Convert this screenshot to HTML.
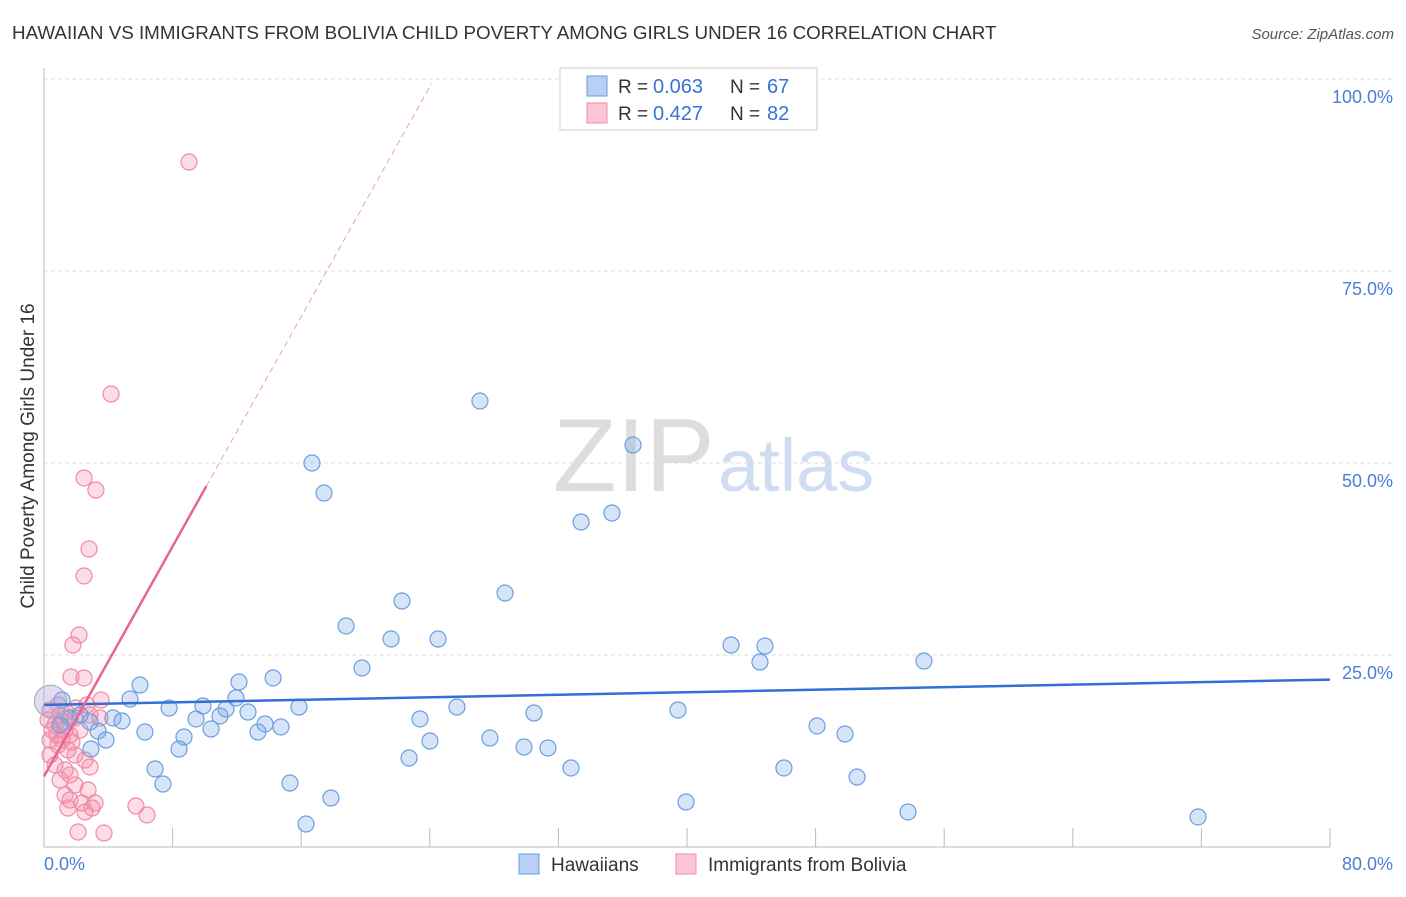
<!DOCTYPE html>
<html><head><meta charset="utf-8"><style>
body{margin:0;background:#fff;font-family:"Liberation Sans",sans-serif}
svg text{font-family:"Liberation Sans",sans-serif}
</style></head><body>
<svg id="c" width="1406" height="892"></svg>
<script>
const bluePx=[[480,401],[633,445],[312,463],[324,493],[581,522],[612,513],[402,601],[505,593],[346,626],[391,639],[438,639],[731,645],[765,646],[760,662],[924,661],[362,668],[140,685],[239,682],[273,678],[236,698],[130,699],[169,708],[203,706],[299,707],[457,707],[226,709],[220,716],[248,712],[678,710],[534,713],[113,718],[122,721],[196,719],[420,719],[265,724],[281,727],[258,732],[211,729],[145,732],[98,731],[184,737],[106,740],[430,741],[490,738],[91,749],[179,749],[524,747],[548,748],[817,726],[845,734],[409,758],[155,769],[571,768],[784,768],[857,777],[163,784],[290,783],[331,798],[686,802],[908,812],[1198,817],[306,824],[70,718],[80,715],[60,725],[90,722],[62,700]];
const pinkPx=[[189,162],[111,394],[84,478],[96,490],[89,549],[84,576],[79,635],[73,645],[71,677],[84,678],[101,700],[87,705],[50,710],[60,715],[75,718],[100,718],[55,725],[65,730],[70,735],[80,730],[50,740],[58,745],[68,750],[75,755],[85,760],[90,767],[55,765],[65,770],[70,775],[60,780],[75,785],[88,790],[65,795],[70,800],[82,803],[95,803],[92,808],[68,808],[85,812],[136,806],[147,815],[78,832],[104,833],[62,740],[50,755],[57,735],[66,712],[72,742],[48,720],[52,730],[58,705],[64,722],[76,708],[90,715]];
// data values (percent), derived from reading the chart
const blueX=bluePx.map(p=>+((p[0]-44)/16.075).toFixed(2));
const blueY=bluePx.map(p=>+((847-p[1])/7.68).toFixed(2));
const pinkX=pinkPx.map(p=>+((p[0]-44)/16.075).toFixed(2));
const pinkY=pinkPx.map(p=>+((847-p[1])/7.68).toFixed(2));
const yTicks=[25,50,75,100];
const blueTrend=[18.5,21.8];
const pinkTrend=[9.2,99];
const X=v=>44+v*16.075, Y=v=>847-v*7.68;
const s=document.getElementById('c'),NS='http://www.w3.org/2000/svg';
function el(t,a,txt){const e=document.createElementNS(NS,t);for(const k in a)e.setAttribute(k,a[k]);if(txt!=null)e.textContent=txt;s.appendChild(e);return e;}
let e;
e=el('text',{x:12,y:39,'font-size':18.8,fill:'#333'},'HAWAIIAN VS IMMIGRANTS FROM BOLIVIA CHILD POVERTY AMONG GIRLS UNDER 16 CORRELATION CHART');


e=el('text',{x:1394,y:39,'font-size':15,fill:'#555','font-style':'italic','text-anchor':'end'},'Source: ZipAtlas.com');


e=el('text',{x:553,y:491,'font-size':104,fill:'#ddd','font-family':'Liberation Serif'},'ZIP');


e=el('text',{x:718,y:491,'font-size':74,fill:'#cfdcf2'},'atlas');


yTicks.forEach(v=>{
 let g=el('line',{x1:44,x2:1394,y1:Y(v),y2:Y(v),stroke:'#ddd','stroke-dasharray':'4,3'});
 
 
 let t=el('text',{x:1393,y:Y(v)+24,'font-size':18,fill:'#4a7fd4','text-anchor':'end'},v.toFixed(1)+'%');
 
 
});
e=el('line',{x1:44,x2:44,y1:68,y2:847,stroke:'#bbb'});


e=el('line',{x1:44,x2:1330,y1:847,y2:847,stroke:'#bbb'});


for(let i=1;i<=10;i++){let t=el('line',{x1:X(i*8),x2:X(i*8),y1:828,y2:847,stroke:'#bbb'});
 
 }
e=el('text',{x:44,y:870,'font-size':18,fill:'#4a7fd4'},'0.0%');


e=el('text',{x:1393,y:870,'font-size':18,fill:'#4a7fd4','text-anchor':'end'},'80.0%');


e=el('text',{x:34,y:456,'font-size':19,fill:'#333','text-anchor':'middle',transform:'rotate(-90 34 456)'},'Child Poverty Among Girls Under 16');


pinkX.forEach((x,i)=>{let c=el('circle',{cx:X(x),cy:Y(pinkY[i]),r:8,fill:'rgba(245,140,170,0.3)',stroke:'#f08aa8','stroke-width':1.2});
 
 });
blueX.forEach((x,i)=>{let c=el('circle',{cx:X(x),cy:Y(blueY[i]),r:8,fill:'rgba(120,165,230,0.3)',stroke:'#6a9ee0','stroke-width':1.2});
 
 });
e=el('circle',{cx:X(0.4),cy:Y(19),r:16,fill:'rgba(180,170,220,0.4)',stroke:'#9ab','stroke-width':1});


e=el('line',{x1:X(0),y1:Y(blueTrend[0]),x2:X(80),y2:Y(blueTrend[1]),stroke:'#2f6fd6','stroke-width':2.5});


const ps=(pinkTrend[1]-pinkTrend[0])/24;
e=el('line',{x1:X(0),y1:Y(pinkTrend[0]),x2:X(10.1),y2:Y(pinkTrend[0]+ps*10.1),stroke:'#e8668f','stroke-width':2.5});


e=el('line',{x1:X(10.1),y1:Y(pinkTrend[0]+ps*10.1),x2:X(24.1),y2:Y(pinkTrend[0]+ps*24.1),stroke:'#e8a0b8','stroke-width':1,'stroke-dasharray':'6,4'});


e=el('rect',{x:560,y:68,width:257,height:62,fill:'#fff',stroke:'#ccc'});


[['#b7d0f4','#6a9ee0','0.063','67',86],['#fbc6d6','#f08aa8','0.427','82',113]].forEach(r=>{
 let q=el('rect',{x:587,y:r[4]-10,width:20,height:20,fill:r[0],stroke:r[1]});
 
 
 let t=el('text',{x:618,y:r[4]+7,'font-size':19,fill:'#333'},'R = ');
 
 
 t=el('text',{x:653,y:r[4]+7,'font-size':20,fill:'#3a72d4'},r[2]);
 
 
 t=el('text',{x:730,y:r[4]+7,'font-size':19,fill:'#333'},'N = ');
 
 
 t=el('text',{x:767,y:r[4]+7,'font-size':20,fill:'#3a72d4'},r[3]);
 
 
});
[[519,'#b7d0f4','#6a9ee0','Hawaiians'],[676,'#fbc6d6','#f08aa8','Immigrants from Bolivia']].forEach(r=>{
 let q=el('rect',{x:r[0],y:854,width:20,height:20,fill:r[1],stroke:r[2]});
 
 
 let t=el('text',{x:r[0]+32,y:871,'font-size':19,fill:'#333'},r[3]);
 
 
});
</script></body></html>
